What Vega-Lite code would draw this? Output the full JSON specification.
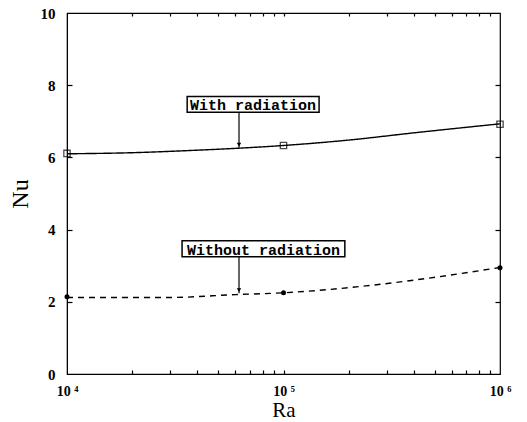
{
  "$schema": "https://vega.github.io/schema/vega-lite/v6.json",
  "width": 433,
  "height": 361,
  "autosize": {"type": "none"},
  "padding": {"left": 67, "top": 13, "right": 27, "bottom": 48},
  "background": "white",
  "config": {
    "view": {"stroke": "black", "strokeWidth": 1.2},
    "axis": {"grid": false, "domainColor": "black", "tickColor": "black", "labelColor": "black", "titleColor": "black"}
  },
  "datasets": {
    "curves": [
      {"series": "with", "Ra": 10000, "Nu": 6.1},
      {"series": "with", "Ra": 20000, "Nu": 6.13},
      {"series": "with", "Ra": 40000, "Nu": 6.2},
      {"series": "with", "Ra": 60000, "Nu": 6.25},
      {"series": "with", "Ra": 100000, "Nu": 6.33},
      {"series": "with", "Ra": 200000, "Nu": 6.48},
      {"series": "with", "Ra": 400000, "Nu": 6.68},
      {"series": "with", "Ra": 1000000, "Nu": 6.93},
      {"series": "without", "Ra": 10000, "Nu": 2.12},
      {"series": "without", "Ra": 30000, "Nu": 2.12},
      {"series": "without", "Ra": 60000, "Nu": 2.2},
      {"series": "without", "Ra": 100000, "Nu": 2.25},
      {"series": "without", "Ra": 240000, "Nu": 2.44},
      {"series": "without", "Ra": 400000, "Nu": 2.6},
      {"series": "without", "Ra": 1000000, "Nu": 2.95}
    ],
    "markers": [
      {"series": "with", "Ra": 10000, "Nu": 6.11},
      {"series": "with", "Ra": 100000, "Nu": 6.33},
      {"series": "with", "Ra": 1000000, "Nu": 6.92},
      {"series": "without", "Ra": 10000, "Nu": 2.14},
      {"series": "without", "Ra": 100000, "Nu": 2.25},
      {"series": "without", "Ra": 1000000, "Nu": 2.94}
    ],
    "notes": [
      {"label": "With radiation", "x1": 35900, "x2": 146000, "y1": 7.25, "y2": 7.69, "tx": 72300, "ty": 7.47, "ax": 62300, "ay1": 7.25, "ay2": 6.27},
      {"label": "Without radiation", "x1": 34000, "x2": 192000, "y1": 3.25, "y2": 3.69, "tx": 80900, "ty": 3.47, "ax": 62300, "ay1": 3.25, "ay2": 2.24}
    ]
  },
  "layer": [
    {
      "data": {"name": "curves"},
      "mark": {"type": "line", "interpolate": "monotone", "color": "black", "strokeWidth": 1.4},
      "encoding": {
        "x": {
          "field": "Ra", "type": "quantitative",
          "scale": {"type": "log", "domain": [10000, 1000000], "nice": false},
          "axis": {
            "orient": "bottom",
            "title": "Ra", "titleFont": "Liberation Serif", "titleFontSize": 21, "titleFontWeight": "normal", "titlePadding": 1,
            "values": [10000, 100000, 1000000],
            "labelExpr": "datum.value == 10000 ? '10 ⁴' : datum.value == 100000 ? '10 ⁵' : '10 ⁶'",
            "labelFont": "Liberation Serif", "labelFontSize": 14, "labelFontWeight": "bold",
            "ticks": false, "labelPadding": 10, "labelOverlap": false, "labelFlush": false
          }
        },
        "y": {
          "field": "Nu", "type": "quantitative",
          "scale": {"domain": [0, 10], "nice": false},
          "axis": {
            "orient": "left",
            "title": "Nu", "titleFont": "Liberation Serif", "titleFontSize": 24, "titleFontWeight": "normal", "titlePadding": 8,
            "values": [0, 2, 4, 6, 8, 10],
            "labelFont": "Liberation Serif", "labelFontSize": 15, "labelFontWeight": "bold",
            "ticks": false, "labelPadding": 12
          }
        },
        "strokeDash": {
          "field": "series", "type": "nominal",
          "scale": {"domain": ["with", "without"], "range": [[1, 0], [6, 5]]},
          "legend": null
        }
      }
    },
    {
      "data": {"name": "markers"},
      "transform": [{"filter": "datum.series == 'with'"}],
      "mark": {"type": "point", "shape": "square", "filled": false, "color": "black", "size": 40, "strokeWidth": 1.3},
      "encoding": {
        "x": {"field": "Ra", "type": "quantitative", "axis": {"orient": "bottom", "offset": -4, "tickSize": 4, "tickWidth": 1.2, "labels": false, "domain": false, "title": null,
          "values": [20000, 30000, 40000, 50000, 60000, 70000, 80000, 90000, 100000, 200000, 300000, 400000, 500000, 600000, 700000, 800000, 900000]}},
        "y": {"field": "Nu", "type": "quantitative", "axis": {"orient": "left", "offset": -5, "tickSize": 5, "tickWidth": 1.2, "labels": false, "domain": false, "title": null, "values": [2, 4, 6, 8]}}
      }
    },
    {
      "data": {"name": "markers"},
      "transform": [{"filter": "datum.series == 'without'"}],
      "mark": {"type": "point", "shape": "circle", "filled": true, "color": "black", "size": 25, "opacity": 1},
      "encoding": {
        "x": {"field": "Ra", "type": "quantitative", "axis": {"orient": "top", "offset": -3, "tickSize": 3, "tickWidth": 1.2, "labels": false, "domain": false, "title": null,
          "values": [20000, 30000, 40000, 50000, 60000, 70000, 80000, 90000, 100000, 200000, 300000, 400000, 500000, 600000, 700000, 800000, 900000]}},
        "y": {"field": "Nu", "type": "quantitative", "axis": {"orient": "right", "offset": -5, "tickSize": 5, "tickWidth": 1.2, "labels": false, "domain": false, "title": null, "values": [2, 4, 6, 8]}}
      }
    },
    {
      "data": {"name": "notes"},
      "mark": {"type": "rule", "color": "black", "strokeWidth": 1.2},
      "encoding": {
        "x": {"field": "ax", "type": "quantitative", "axis": null},
        "y": {"field": "ay1", "type": "quantitative", "axis": null},
        "y2": {"field": "ay2"}
      }
    },
    {
      "data": {"name": "notes"},
      "mark": {"type": "point", "shape": "triangle-down", "filled": true, "color": "black", "size": 20, "opacity": 1, "yOffset": -3},
      "encoding": {
        "x": {"field": "ax", "type": "quantitative", "axis": null},
        "y": {"field": "ay2", "type": "quantitative", "axis": null}
      }
    },
    {
      "data": {"name": "notes"},
      "mark": {"type": "rect", "fill": "white", "stroke": "black", "strokeWidth": 1.5},
      "encoding": {
        "x": {"field": "x1", "type": "quantitative", "axis": null},
        "x2": {"field": "x2"},
        "y": {"field": "y1", "type": "quantitative", "axis": null},
        "y2": {"field": "y2"}
      }
    },
    {
      "data": {"name": "notes"},
      "mark": {"type": "text", "font": "Liberation Mono", "fontWeight": "bold", "fontSize": 15, "color": "black", "align": "center", "baseline": "middle", "dy": 1},
      "encoding": {
        "x": {"field": "tx", "type": "quantitative", "axis": null},
        "y": {"field": "ty", "type": "quantitative", "axis": null},
        "text": {"field": "label"}
      }
    }
  ],
  "resolve": {"axis": {"x": "independent", "y": "independent"}}
}
